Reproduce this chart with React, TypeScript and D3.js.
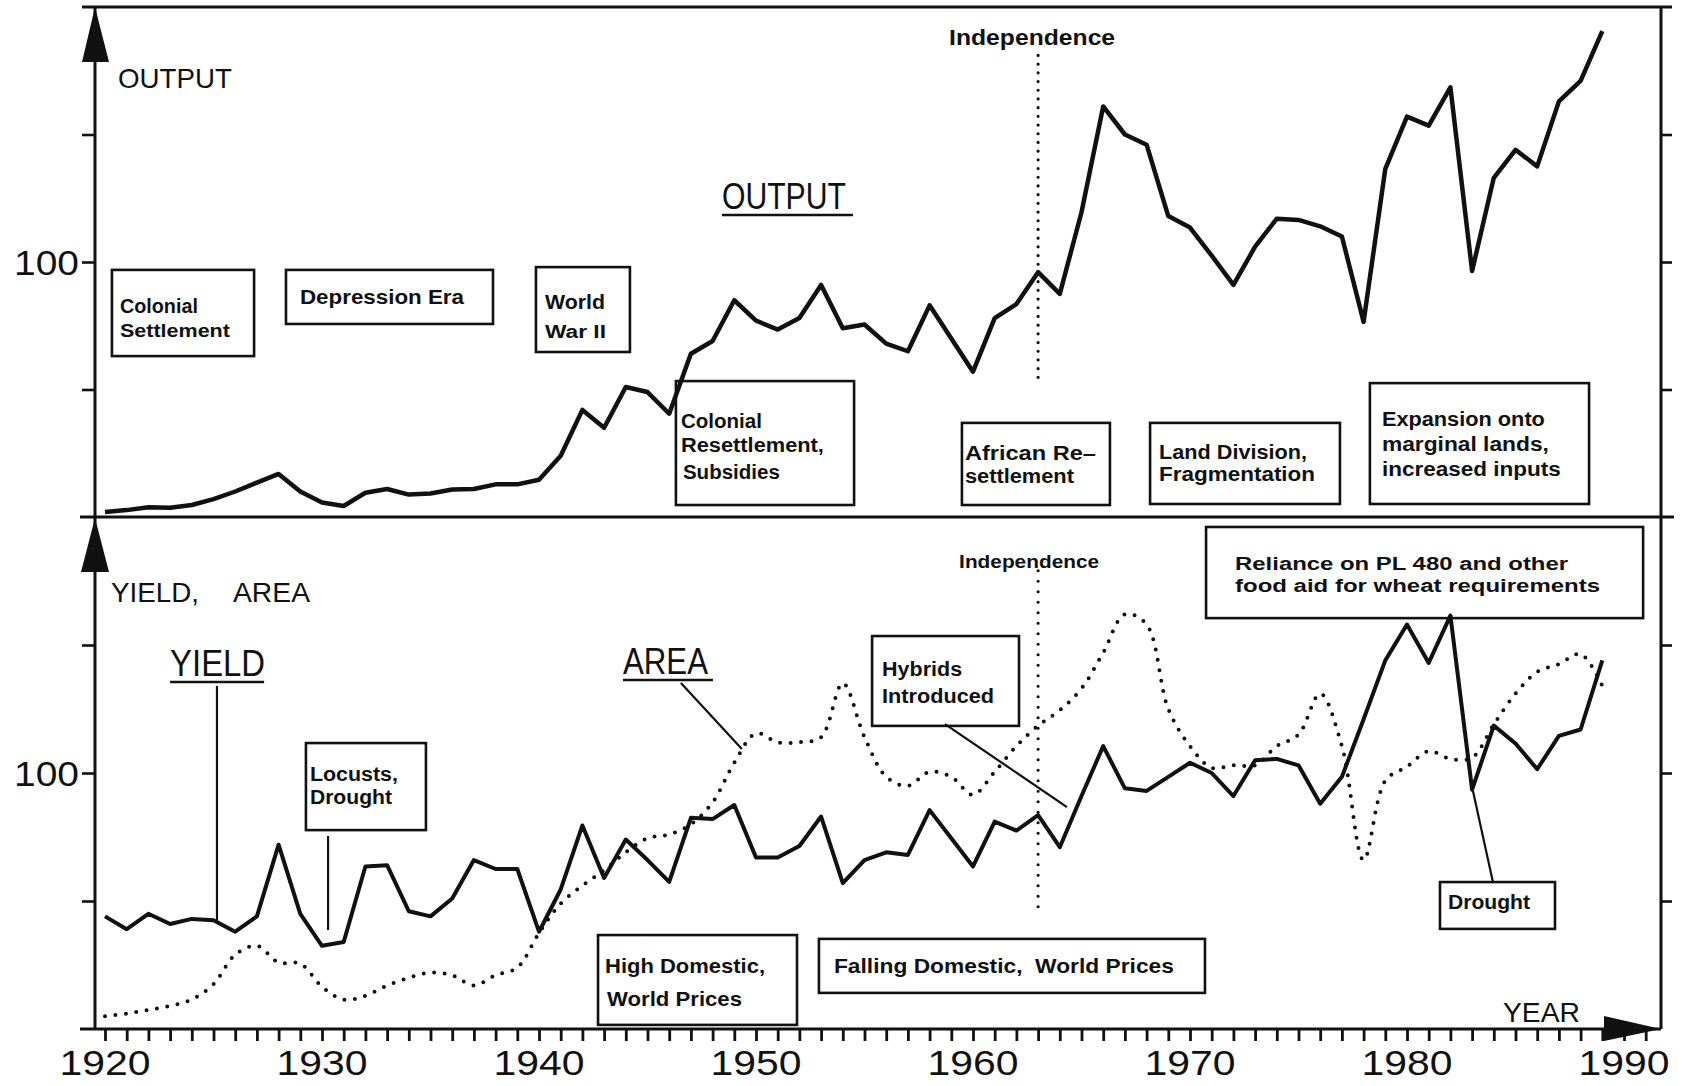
import { useEffect, useRef } from "react"
import * as d3 from "d3"

// Wheat/maize history: index values (100 = base)
const years = [
  1920, 1921, 1922, 1923, 1924, 1925, 1926, 1927, 1928, 1929,
  1930, 1931, 1932, 1933, 1934, 1935, 1936, 1937, 1938, 1939,
  1940, 1941, 1942, 1943, 1944, 1945, 1946, 1947, 1948, 1949,
  1950, 1951, 1952, 1953, 1954, 1955, 1956, 1957, 1958, 1959,
  1960, 1961, 1962, 1963, 1964, 1965, 1966, 1967, 1968, 1969,
  1970, 1971, 1972, 1973, 1974, 1975, 1976, 1977, 1978, 1979,
  1980, 1981, 1982, 1983, 1984, 1985, 1986, 1987, 1988, 1989,
]

const output = [
  2, 2.7, 3.8, 3.6, 4.7, 7, 10, 13.5, 16.9, 10,
  5.7, 4.3, 9.5, 11, 8.8, 9.2, 10.8, 11, 12.8, 12.8,
  14.6, 24, 42, 35, 51, 49, 40.5, 64, 69, 85,
  77, 73.5, 78, 91, 74, 75.5, 68, 65, 83, 70,
  57, 78, 83.5, 96, 87.5, 119.5, 161, 150, 146, 118,
  113.5, 102.5, 91, 106, 117, 116.5, 114, 110, 76.5, 136.5,
  157, 153.5, 168.5, 96.5, 133, 144, 137.5, 163, 171, 190.5,
]

const yieldIndex = [
  44, 39, 45, 41, 43, 42.5, 38, 44, 72, 45,
  32.5, 34, 63.5, 64, 46, 44, 51, 66, 62.5, 62.5,
  38, 54.5, 79.5, 59, 74, 66, 57.5, 82.5, 82, 87.5,
  67, 67, 71.5, 83, 57, 66, 69, 68, 85.5, 74.5,
  63.5, 81, 77.5, 83.5, 71, 91, 110.5, 94, 93, 98.5,
  104, 100, 91, 105, 105.5, 103, 88, 98.5, 121, 144,
  158, 143, 161.5, 93.5, 118.5, 111.5, 101.5, 114.5, 117, 144,
]

const areaIndex = [
  5, 6, 7.5, 9, 11.5, 17.5, 29, 32.5, 26, 25.5,
  16.5, 11.5, 13, 17, 20, 22, 21, 17, 21, 24,
  37.5, 49, 56, 62, 69, 74.5, 76, 80, 88.5, 104,
  115.5, 112, 112, 114, 135, 114, 98.5, 95, 100.5, 98.5,
  91.5, 100.5, 110.5, 118.5, 124.5, 133, 147, 162, 158, 125,
  110.5, 102, 103, 103, 110.5, 115, 131, 110.5, 66, 97,
  102.5, 108.5, 105.5, 106, 119, 131, 139.5, 142.5, 146.5, 134,
]

const decadeLabels = ["1920", "1930", "1940", "1950", "1960", "1970", "1980", "1990"]
const indexTicks = [50, 100, 150]
const independenceYear = 1963

// annotation boxes, corners in (year, index) units
const topNotes = [
  { x0: 1920.32, x1: 1926.87, v0: 96.9, v1: 63.1, lines: [
    { t: "Colonial", dx: 8, dy: 43, w: 78, s: 20 },
    { t: "Settlement", dx: 8, dy: 67, w: 110, s: 18 } ] },
  { x0: 1928.34, x1: 1937.88, v0: 96.9, v1: 75.7, lines: [
    { t: "Depression Era", dx: 14, dy: 34, w: 164, s: 21 } ] },
  { x0: 1939.86, x1: 1944.19, v0: 98, v1: 64.7, lines: [
    { t: "World", dx: 9, dy: 42, w: 60, s: 21 },
    { t: "War II", dx: 9, dy: 71, w: 61, s: 18 } ] },
  { x0: 1946.31, x1: 1954.52, v0: 53.3, v1: 4.7, lines: [
    { t: "Colonial", dx: 5, dy: 47, w: 81, s: 20 },
    { t: "Resettlement,", dx: 5, dy: 71, w: 143, s: 20 },
    { t: "Subsidies", dx: 7, dy: 98, w: 97, s: 20 } ] },
  { x0: 1959.49, x1: 1966.31, v0: 36.9, v1: 4.7, lines: [
    { t: "African Re–", dx: 3, dy: 37, w: 131, s: 20 },
    { t: "settlement", dx: 3, dy: 60, w: 109, s: 20 } ] },
  { x0: 1968.16, x1: 1976.91, v0: 36.9, v1: 5.1, lines: [
    { t: "Land Division,", dx: 9, dy: 36, w: 148, s: 20 },
    { t: "Fragmentation", dx: 9, dy: 58, w: 156, s: 20 } ] },
  { x0: 1978.29, x1: 1988.39, v0: 52.5, v1: 5.1, lines: [
    { t: "Expansion onto", dx: 12, dy: 43, w: 163, s: 20 },
    { t: "marginal lands,", dx: 12, dy: 68, w: 167, s: 20 },
    { t: "increased inputs", dx: 12, dy: 93, w: 179, s: 20 } ] },
]

const bottomNotes = [
  { x0: 1929.26, x1: 1934.79, v0: 111.7, v1: 77.7, lines: [
    { t: "Locusts,", dx: 4, dy: 38, w: 88, s: 20 },
    { t: "Drought", dx: 4, dy: 61, w: 82, s: 20 } ] },
  { x0: 1955.35, x1: 1962.12, v0: 153.5, v1: 118.4, lines: [
    { t: "Hybrids", dx: 10, dy: 40, w: 80, s: 20 },
    { t: "Introduced", dx: 10, dy: 67, w: 112, s: 20 } ] },
  { x0: 1942.72, x1: 1951.89, v0: 36.7, v1: 1.6, lines: [
    { t: "High Domestic,", dx: 7, dy: 38, w: 160, s: 21 },
    { t: "World Prices", dx: 9, dy: 71, w: 135, s: 21 } ] },
  { x0: 1952.9, x1: 1970.69, v0: 35.2, v1: 14.1, lines: [
    { t: "Falling Domestic,  World Prices", dx: 15, dy: 34, w: 340, s: 21 } ] },
  { x0: 1970.74, x1: 1990.88, v0: 196.1, v1: 160.5, lines: [
    { t: "Reliance on PL 480 and other", dx: 29, dy: 43, w: 333, s: 18 },
    { t: "food aid for wheat requirements", dx: 29, dy: 65, w: 365, s: 18 } ] },
  { x0: 1981.52, x1: 1986.82, v0: 57.4, v1: 39.1, lines: [
    { t: "Drought", dx: 8, dy: 27, w: 82, s: 20 } ] },
]

// leader lines in the lower panel: [year1, index1, year2, index2]
const leaders = [
  [1925.16, 134, 1925.16, 42.2],
  [1930.28, 75.4, 1930.28, 38.7],
  [1946.54, 135.2, 1949.35, 109.4],
  [1958.71, 119.1, 1964.33, 86.7],
  [1983.04, 93, 1983.96, 57.4],
]

const INK = "#111"
const FONT = "'Liberation Sans', Arial, Helvetica, sans-serif"

export default function App() {
  const svgRef = useRef<SVGSVGElement>(null)

  useEffect(() => {
    if (!svgRef.current) return
    document.body.style.margin = "0"

    const LEFT = 95
    const RIGHT = 1661
    const TOP = 7
    const MID = 517
    const BOTTOM = 1029

    const svg = d3.select(svgRef.current)
    svg.selectAll("*").remove()
    svg.attr("font-family", FONT)

    const x = d3.scaleLinear().domain([1920, 1990]).range([105, 1624])
    const yTop = d3.scaleLinear().domain([0, 200]).range([MID, TOP])
    const yBot = d3.scaleLinear().domain([0, 200]).range([BOTTOM, MID])

    svg.append("rect").attr("width", 1682).attr("height", 1086).attr("fill", "#fff")

    // frame
    const frame = [
      [82, TOP, 1672, TOP],
      [80, MID, 1674, MID],
      [80, BOTTOM, RIGHT, BOTTOM],
      [LEFT, TOP, LEFT, BOTTOM],
      [RIGHT, TOP, RIGHT, BOTTOM],
    ]
    frame.forEach(([x1, y1, x2, y2]) => {
      svg.append("line").attr("x1", x1).attr("y1", y1).attr("x2", x2).attr("y2", y2)
        .attr("stroke", INK).attr("stroke-width", 3)
    })

    // arrows
    const arrows = [
      [[LEFT, TOP], [LEFT - 13, TOP + 55], [LEFT + 14, TOP + 55]],
      [[LEFT, MID + 1], [LEFT - 14, MID + 55], [LEFT + 14, MID + 55]],
      [[RIGHT, BOTTOM], [RIGHT - 57, BOTTOM - 13], [RIGHT - 57, BOTTOM + 12]],
    ]
    arrows.forEach((pts) => {
      svg.append("polygon").attr("points", pts.map((p) => p.join(",")).join(" ")).attr("fill", INK)
    })

    // year ticks
    svg.append("g")
      .attr("transform", `translate(0,${BOTTOM})`)
      .call(d3.axisBottom(x).tickValues(d3.range(1920, 1992)).tickSize(12).tickSizeOuter(0).tickFormat(() => ""))
      .call((g) => g.select(".domain").remove())
      .selectAll("line").attr("stroke", INK).attr("stroke-width", 2.8)

    decadeLabels.forEach((d) => {
      svg.append("text")
        .attr("x", x(+d) - 45.5).attr("y", 1075)
        .attr("font-size", 35).attr("fill", INK)
        .attr("textLength", 91).attr("lengthAdjust", "spacingAndGlyphs")
        .text(d)
    })

    // value ticks, left and right, both panels
    ;[yTop, yBot].forEach((y) => {
      svg.append("g")
        .attr("transform", `translate(${LEFT},0)`)
        .call(d3.axisLeft(y).tickValues(indexTicks).tickSize(13).tickFormat(() => ""))
        .call((g) => g.select(".domain").remove())
        .selectAll("line").attr("stroke", INK).attr("stroke-width", 2.6)
      svg.append("g")
        .attr("transform", `translate(${RIGHT},0)`)
        .call(d3.axisRight(y).tickValues(indexTicks).tickSize(11).tickFormat(() => ""))
        .call((g) => g.select(".domain").remove())
        .selectAll("line").attr("stroke", INK).attr("stroke-width", 2.6)
      svg.append("text")
        .attr("x", 14).attr("y", y(100) + 13)
        .attr("font-size", 35).attr("fill", INK)
        .attr("textLength", 65).attr("lengthAdjust", "spacingAndGlyphs")
        .text("100")
    })

    // axis titles
    const titles = [
      { t: "OUTPUT", x: 118, y: 88, w: 114 },
      { t: "YIELD,", x: 111, y: 602, w: 88 },
      { t: "AREA", x: 233, y: 602, w: 77 },
      { t: "YEAR", x: 1503, y: 1022, w: 77 },
    ]
    titles.forEach((d) => {
      svg.append("text").attr("x", d.x).attr("y", d.y)
        .attr("font-size", 28).attr("fill", INK)
        .attr("textLength", d.w).attr("lengthAdjust", "spacingAndGlyphs")
        .text(d.t)
    })

    // independence markers
    const indX = x(independenceYear)
    svg.append("line").attr("x1", indX).attr("x2", indX).attr("y1", yTop(181)).attr("y2", yTop(54.5))
      .attr("stroke", INK).attr("stroke-width", 3.2).attr("stroke-linecap", "round").attr("stroke-dasharray", "0 8.7")
    svg.append("line").attr("x1", indX).attr("x2", indX).attr("y1", yBot(179)).attr("y2", yBot(45))
      .attr("stroke", INK).attr("stroke-width", 3.2).attr("stroke-linecap", "round").attr("stroke-dasharray", "0 10.5")
    svg.append("text").attr("x", indX - 89).attr("y", 45)
      .attr("font-size", 22).attr("font-weight", 700).attr("fill", INK)
      .attr("textLength", 166).attr("lengthAdjust", "spacingAndGlyphs").text("Independence")
    svg.append("text").attr("x", indX - 79).attr("y", 568)
      .attr("font-size", 18).attr("font-weight", 700).attr("fill", INK)
      .attr("textLength", 140).attr("lengthAdjust", "spacingAndGlyphs").text("Independence")

    // series
    const lineTop = d3.line<number>().x((_, i) => x(years[i])).y((d) => yTop(d))
    const lineBot = d3.line<number>().x((_, i) => x(years[i])).y((d) => yBot(d))
    const smoothBot = d3.line<number>().x((_, i) => x(years[i])).y((d) => yBot(d)).curve(d3.curveCatmullRom.alpha(0.5))

    svg.append("path").attr("d", lineTop(output)).attr("fill", "none")
      .attr("stroke", INK).attr("stroke-width", 4.5).attr("stroke-linejoin", "round")
    svg.append("path").attr("d", smoothBot(areaIndex)).attr("fill", "none")
      .attr("stroke", INK).attr("stroke-width", 4).attr("stroke-linecap", "round").attr("stroke-dasharray", "0 10.5")
    svg.append("path").attr("d", lineBot(yieldIndex)).attr("fill", "none")
      .attr("stroke", INK).attr("stroke-width", 4).attr("stroke-linejoin", "round")

    // series labels (underlined)
    const seriesLabels = [
      { t: "OUTPUT", yr: 1948.43, v: 120.8, y: yTop, w: 124, s: 37, ul: 131 },
      { t: "YIELD", yr: 1923, v: 137.9, y: yBot, w: 95, s: 36, ul: 94 },
      { t: "AREA", yr: 1943.87, v: 138.7, y: yBot, w: 85, s: 36, ul: 90 },
    ]
    seriesLabels.forEach((d) => {
      const lx = x(d.yr)
      const ly = d.y(d.v)
      svg.append("text").attr("x", lx).attr("y", ly)
        .attr("font-size", d.s).attr("fill", INK)
        .attr("textLength", d.w).attr("lengthAdjust", "spacingAndGlyphs").text(d.t)
      svg.append("line").attr("x1", lx).attr("x2", lx + d.ul).attr("y1", ly + 6).attr("y2", ly + 6)
        .attr("stroke", INK).attr("stroke-width", 2.6)
    })

    // leaders
    leaders.forEach(([a, b, c, e]) => {
      svg.append("line").attr("x1", x(a)).attr("y1", yBot(b)).attr("x2", x(c)).attr("y2", yBot(e))
        .attr("stroke", INK).attr("stroke-width", 2.2)
    })

    // annotation boxes
    const drawNotes = (notes: typeof topNotes, y: d3.ScaleLinear<number, number>) => {
      notes.forEach((n) => {
        const bx = x(n.x0)
        const by = y(n.v0)
        svg.append("rect").attr("x", bx).attr("y", by)
          .attr("width", x(n.x1) - bx).attr("height", y(n.v1) - by)
          .attr("fill", "none").attr("stroke", INK).attr("stroke-width", 2.6)
        n.lines.forEach((l) => {
          svg.append("text").attr("x", bx + l.dx).attr("y", by + l.dy)
            .attr("font-size", l.s).attr("font-weight", 700).attr("fill", INK)
            .attr("textLength", l.w).attr("lengthAdjust", "spacingAndGlyphs")
            .style("white-space", "pre")
            .text(l.t)
        })
      })
    }
    drawNotes(topNotes, yTop)
    drawNotes(bottomNotes, yBot)
  }, [])

  return <svg ref={svgRef} width={1682} height={1086} style={{ display: "block" }}></svg>
}
